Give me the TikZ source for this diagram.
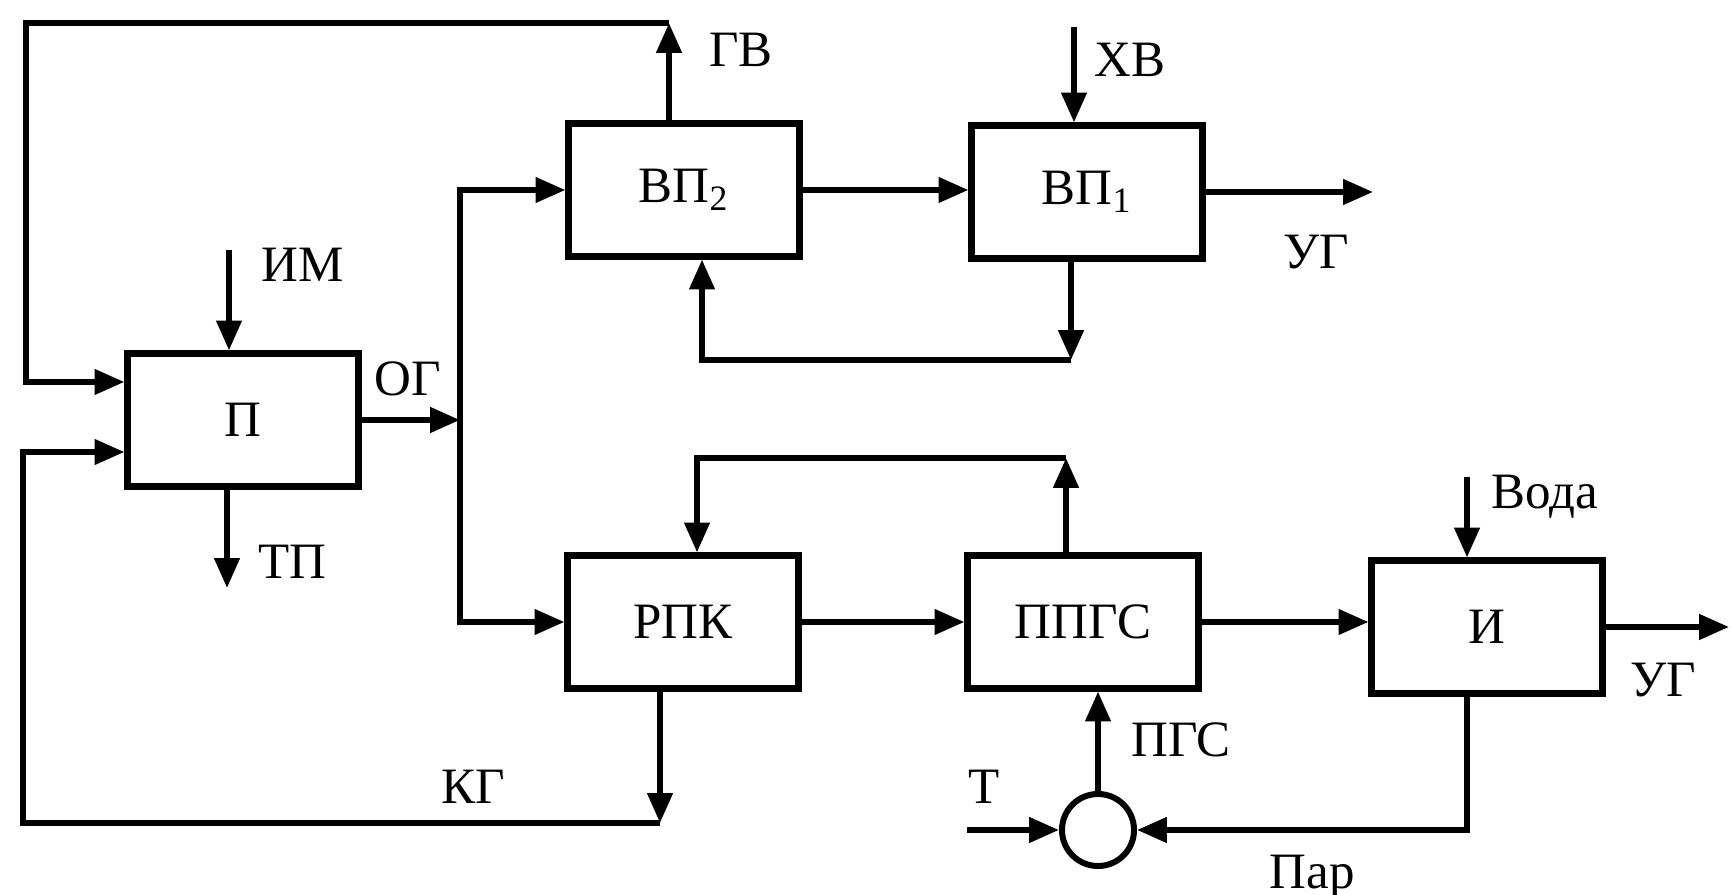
\documentclass[tikz,border=0pt]{standalone}
\usepackage{fontspec}
\setmainfont{Liberation Serif}
\usetikzlibrary{arrows.meta,positioning}

\begin{document}
\begin{tikzpicture}[
  x=0.01cm, y=-0.01cm,
  every node/.style={font=\fontsize{14.5}{16}\selectfont},
  box/.style={draw, line width=2pt, minimum width=2.3cm, minimum height=1.32cm, inner sep=0pt},
  mixer/.style={draw, circle, line width=1.7pt, minimum size=0.72cm, inner sep=0pt},
  arr/.style={line width=1.6pt, -{Triangle[length=8.5pt,width=7pt]}},
]
\useasboundingbox (0,0) rectangle (1731,895);
% blocks
\foreach \n/\x/\y/\t in {
  P/243/420/П,
  VP2/684/190/ВП\textsubscript{2},
  VP1/1087/192/ВП\textsubscript{1},
  RPK/683/622/РПК,
  PPGS/1083/622/ППГС,
  I/1487/627/И}
  \node[box] (\n) at (\x,\y) {\t};
\node[mixer] (mix) at (1098,830) {};
% stream labels
\foreach \n/\x/\y/\t in {
  IM/303/265/ИМ, OG/408/379/ОГ, TP/292/562/ТП, GV/741/50/ГВ,
  XV/1130/60/ХВ, UGa/1316/252/УГ, KG/473/787/КГ, Voda/1545/497/Вода,
  UGb/1663/680/УГ, T/984/787/Т, PGS/1181/740/ПГС, Par/1312/877/Пар}
  \node (l\n) at (\x,\y) {\t};
% free ends and corners
\coordinate (im) at (229,250);
\coordinate (tp) at (227,588);
\coordinate (og) at (460,420);
\coordinate (gv) at (669,23);
\coordinate (tl) at (26,23);
\coordinate (xv) at (1074,27);
\coordinate (ug1) at (1373,192);
\coordinate (fb1) at (1071,360);
\coordinate (fb2) at (1066,458);
\coordinate (kg) at (660,823);
\coordinate (bl) at (23,823);
\coordinate (voda) at (1467,477);
\coordinate (ug2) at (1729,627);
\coordinate (t) at (967,830);
% inputs and outputs of the furnace
\draw[arr] (im) -- (im |- P.north);
\draw[arr] (tp |- P.south) -- (tp);
\draw[arr] (P.east) -- (og);
\draw[arr] (og) |- (VP2.west);
\draw[arr] (og) |- (RPK.west);
% upper branch
\draw[arr] (VP2.north -| gv) -- (gv);
\draw[arr] (gv) -- (tl) |- ([yshift=0.38cm]P.west);
\draw[arr] (xv) -- (xv |- VP1.north);
\draw[arr] (VP2.east) -- (VP2.east -| VP1.west);
\draw[arr] (VP1.east) -- (ug1);
\draw[arr] (VP1.south -| fb1) -- (fb1);
\draw[arr] (fb1) -| ([xshift=0.18cm]VP2.south);
% lower branch
\draw[arr] (RPK.east) -- (PPGS.west);
\draw[arr] (PPGS.east) -- (PPGS.east -| I.west);
\draw[arr] (PPGS.north -| fb2) -- (fb2);
\draw[arr] (fb2) -| ([xshift=0.14cm]RPK.north);
\draw[arr] (RPK.south -| kg) -- (kg);
\draw[arr] (kg) -- (bl) |- ([yshift=-0.32cm]P.west);
\draw[arr] (voda) -- (voda |- I.north);
\draw[arr] (I.east) -- (ug2);
% steam generation
\draw[arr] (t) -- (mix.west);
\draw[arr] (I.south -| voda) |- (mix.east);
\draw[arr] (mix.north) -- (mix.north |- PPGS.south);
\end{tikzpicture}
\end{document}
